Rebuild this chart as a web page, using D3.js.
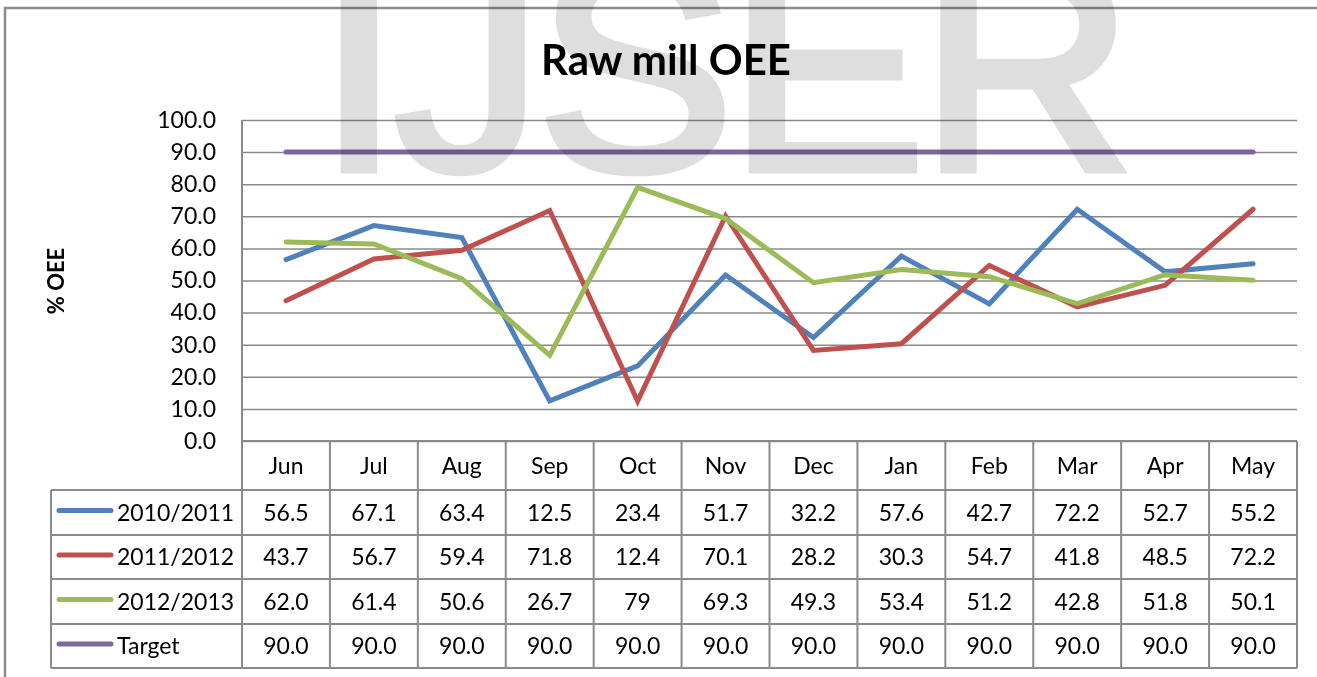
<!DOCTYPE html>
<html>

<head>
    <meta charset="utf-8">
    <script src="https://cdnjs.cloudflare.com/ajax/libs/d3/7.8.5/d3.min.js"></script>
    <style>
        body {
            margin: 0;
            background: #fff;
        }

        svg text {
            font-family: Lato, "Open Sans", sans-serif;
            fill: #000;
        }

        .watermark {
            mix-blend-mode: multiply;
        }
    </style>
</head>

<body>
    <svg id="chart" width="1317" height="677"></svg>

    <script>
        var months = ["Jun", "Jul", "Aug", "Sep", "Oct", "Nov", "Dec", "Jan", "Feb", "Mar", "Apr", "May"];
        var seriesNames = ["2010/2011", "2011/2012", "2012/2013", "Target"];
        var oee1011 = [56.5, 67.1, 63.4, 12.5, 23.4, 51.7, 32.2, 57.6, 42.7, 72.2, 52.7, 55.2];
        var oee1112 = [43.7, 56.7, 59.4, 71.8, 12.4, 70.1, 28.2, 30.3, 54.7, 41.8, 48.5, 72.2];
        var oee1213 = [62.0, 61.4, 50.6, 26.7, 79, 69.3, 49.3, 53.4, 51.2, 42.8, 51.8, 50.1];
        var target = [90.0, 90.0, 90.0, 90.0, 90.0, 90.0, 90.0, 90.0, 90.0, 90.0, 90.0, 90.0];
        // labels as printed in the table (Oct of 2012/2013 is shown as "79")
        var printed = [
            ["56.5", "67.1", "63.4", "12.5", "23.4", "51.7", "32.2", "57.6", "42.7", "72.2", "52.7", "55.2"],
            ["43.7", "56.7", "59.4", "71.8", "12.4", "70.1", "28.2", "30.3", "54.7", "41.8", "48.5", "72.2"],
            ["62.0", "61.4", "50.6", "26.7", "79", "69.3", "49.3", "53.4", "51.2", "42.8", "51.8", "50.1"],
            ["90.0", "90.0", "90.0", "90.0", "90.0", "90.0", "90.0", "90.0", "90.0", "90.0", "90.0", "90.0"]
        ];
        var yTicks = [0, 10, 20, 30, 40, 50, 60, 70, 80, 90, 100];

        var allSeries = [oee1011, oee1112, oee1213, target];
        var colors = ["#4F81BD", "#C0504D", "#9BBB59", "#8064A2"];

        var svg = d3.select("#chart");

        var plotLeft = 242, plotRight = 1297, plotTop = 120, plotBottom = 441;
        var tableLeft = 51;
        var rowLines = [441, 490, 535, 579, 624, 668];
        var lineCol = "#8a8a8a";

        var x = d3.scaleBand().domain(months).range([plotLeft, plotRight]);
        var y = d3.scaleLinear().domain([0, 100]).range([plotBottom, plotTop]);

        // chart border
        svg.append("rect")
            .attr("x", 5).attr("y", 8)
            .attr("width", 1340).attr("height", 700)
            .attr("fill", "none")
            .attr("stroke", "#8c8c8c")
            .attr("stroke-width", 2.5);

        // title
        svg.append("text")
            .attr("x", 666).attr("y", 75)
            .attr("text-anchor", "middle")
            .style("font-size", "42px")
            .style("font-weight", "bold")
            .text("Raw mill OEE");

        // gridlines
        svg.append("g")
            .attr("transform", "translate(" + plotLeft + ",0)")
            .call(d3.axisLeft(y).tickValues(yTicks).tickSize(-(plotRight - plotLeft)).tickFormat(""))
            .call(g => g.select(".domain").remove())
            .call(g => g.selectAll("line").attr("stroke", lineCol).attr("stroke-width", 1.5));

        // y labels
        svg.append("g")
            .attr("transform", "translate(" + plotLeft + ",0)")
            .call(d3.axisLeft(y).tickValues(yTicks).tickSize(0).tickPadding(26).tickFormat(d3.format(".1f")))
            .call(g => g.select(".domain").remove())
            .call(g => g.selectAll("text").style("font-size", "23px").style("font-family", "Lato, sans-serif"));

        // y title
        svg.append("text")
            .attr("transform", "translate(64,281) rotate(-90)")
            .attr("text-anchor", "middle")
            .style("font-size", "22px")
            .style("font-weight", "bold")
            .text("% OEE");

        // data table grid
        var grid = svg.append("g").attr("stroke", lineCol).attr("stroke-width", 2);
        grid.append("line").attr("x1", plotLeft).attr("x2", plotLeft).attr("y1", plotTop).attr("y2", rowLines[5]);
        months.forEach(function (m) {
            grid.append("line")
                .attr("x1", x(m) + x.bandwidth()).attr("x2", x(m) + x.bandwidth())
                .attr("y1", plotBottom).attr("y2", rowLines[5]);
        });
        rowLines.forEach(function (ry, i) {
            grid.append("line")
                .attr("x1", i == 0 ? plotLeft : tableLeft).attr("x2", plotRight)
                .attr("y1", ry).attr("y2", ry);
        });
        grid.append("line").attr("x1", tableLeft).attr("x2", tableLeft).attr("y1", rowLines[1]).attr("y2", rowLines[5]);

        // category row
        svg.append("g").selectAll("text")
            .data(months)
            .enter().append("text")
            .attr("x", d => x(d) + x.bandwidth() / 2)
            .attr("y", (rowLines[0] + rowLines[1]) / 2)
            .attr("dy", "0.35em")
            .attr("text-anchor", "middle")
            .style("font-size", "23px")
            .text(d => d);

        // series rows
        seriesNames.forEach(function (name, s) {
            var cy = (rowLines[s + 1] + rowLines[s + 2]) / 2;
            svg.append("line")
                .attr("x1", 59).attr("x2", 111)
                .attr("y1", cy - 2).attr("y2", cy - 2)
                .attr("stroke", colors[s])
                .attr("stroke-width", 5)
                .attr("stroke-linecap", "round");
            svg.append("text")
                .attr("x", 117).attr("y", cy)
                .attr("dy", "0.35em")
                .style("font-size", "23px")
                .text(name);
            svg.append("g").selectAll("text")
                .data(printed[s])
                .enter().append("text")
                .attr("x", (d, i) => x(months[i]) + x.bandwidth() / 2)
                .attr("y", cy)
                .attr("dy", "0.35em")
                .attr("text-anchor", "middle")
                .style("font-size", "23px")
                .text(d => d);
        });

        // lines
        var line = d3.line()
            .x((d, i) => x(months[i]) + x.bandwidth() / 2)
            .y(d => y(d));

        allSeries.forEach(function (vals, s) {
            svg.append("path")
                .datum(vals)
                .attr("d", line)
                .attr("fill", "none")
                .attr("stroke", colors[s])
                .attr("stroke-width", 5)
                .attr("stroke-linejoin", "miter")
                .attr("stroke-linecap", "round");
        });

        // watermark on top
        svg.append("text")
            .attr("class", "watermark")
            .attr("x", 318).attr("y", 169)
            .attr("textLength", 815)
            .attr("lengthAdjust", "spacing")
            .style("font-family", "'Liberation Sans', Arial, sans-serif")
            .style("font-size", "294px")
            .style("fill", "#dedede")
            .style("stroke", "#dedede")
            .style("stroke-width", "9px")
            .style("stroke-linejoin", "miter")
            .text("IJSER");
    </script>
</body>

</html>
